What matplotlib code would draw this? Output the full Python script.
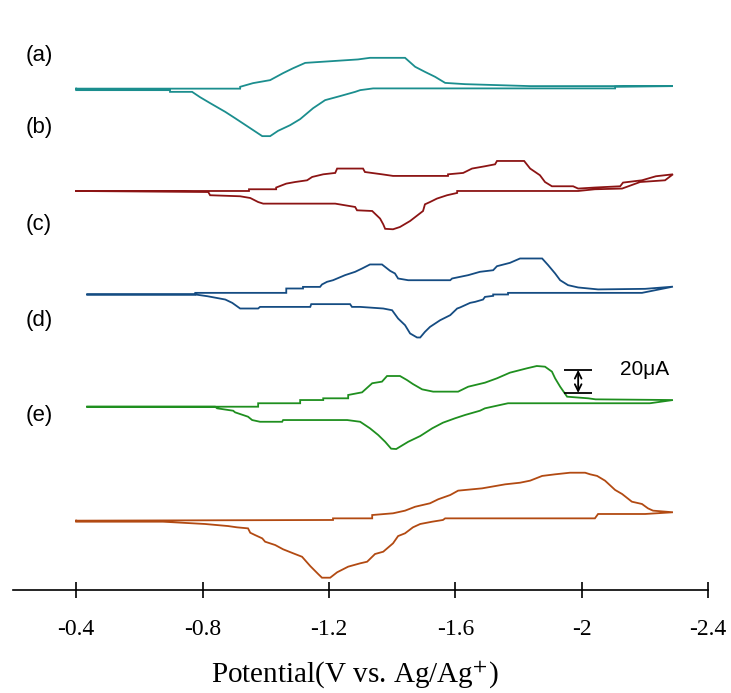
import matplotlib
matplotlib.use("Agg")
import matplotlib.pyplot as plt

plt.rcParams['axes.unicode_minus'] = False
plt.rcParams['mathtext.fontset'] = 'stix'

# potential (V vs Ag/Ag+) and current (uA, relative to each trace's baseline)
# every trace is one closed loop: upper branch left->right, lower branch right->left
a_v = [-0.40, -0.919, -0.919, -0.960, -1.014, -1.055, -1.087, -1.125, -1.292, -1.330, -1.441,
       -1.473, -1.504, -1.536, -1.568, -1.631, -1.837, -2.289,
       -2.106, -2.106, -1.340, -1.299, -1.283, -1.235, -1.188, -1.150, -1.109, -1.077, -1.039,
       -1.014, -0.989, -0.951, -0.903, -0.872, -0.824, -0.792, -0.767, -0.697, -0.697, -0.40, -0.40]
a_i = [0, 0, 1.6, 4.8, 7.4, 13.5, 17.8, 22.4, 25.4, 26.8, 26.8,
       19.0, 14.6, 10.3, 5.0, 3.9, 2.2, 2.2,
       1.6, 0.2, 0.2, -1.3, -2.8, -6.5, -10.0, -17.0, -26.5, -31.8, -36.7,
       -41.3, -41.3, -34.4, -25.7, -20.2, -12.6, -7.4, -2.8, -2.8, -1.3, -1.3, 0]

b_v = [-0.40, -0.947, -0.947, -1.033, -1.033, -1.065, -1.093, -1.131, -1.147, -1.182, -1.220,
       -1.226, -1.308, -1.314, -1.368, -1.403, -1.577, -1.577, -1.625, -1.653, -1.694, -1.726,
       -1.732, -1.818, -1.837, -1.868, -1.884, -1.906, -1.973, -1.989, -2.042, -2.122, -2.131,
       -2.191, -2.235, -2.289,
       -2.264, -2.185, -2.128, -2.042, -1.989, -1.606, -1.606, -1.574, -1.542, -1.520, -1.504,
       -1.498, -1.457, -1.425, -1.403, -1.378, -1.372, -1.362, -1.337, -1.289, -1.283, -1.220,
       -0.992, -0.976, -0.951, -0.919, -0.824, -0.818, -0.40]
b_i = [0, 0, 1.5, 1.5, 3.0, 6.4, 7.8, 9.3, 12.2, 14.5, 15.7,
       19.5, 19.5, 16.5, 14.5, 13.1, 13.1, 14.5, 15.7, 19.5, 21.5, 23.2,
       26.1, 26.1, 19.5, 13.7, 7.8, 4.1, 4.1, 2.1, 3.0, 4.1, 7.3,
       9.3, 12.8, 14.5,
       9.3, 7.8, 2.1, 1.5, 0, 0, -1.7, -3.7, -6.6, -9.6, -11.6,
       -17.4, -26.1, -31.3, -33.3, -32.9, -29.0, -24.0, -17.4, -16.8, -13.9, -11.0,
       -11.0, -9.6, -6.1, -4.6, -3.7, -0.9, 0]

c_v = [-0.435, -0.777, -0.777, -1.065, -1.065, -1.118, -1.118, -1.172, -1.178, -1.194, -1.213,
       -1.251, -1.283, -1.305, -1.330, -1.368, -1.394, -1.409, -1.419, -1.451, -1.584, -1.590,
       -1.641, -1.678, -1.720, -1.732, -1.773, -1.805, -1.875, -1.894, -1.916, -1.932, -1.957,
       -1.989, -2.052, -2.201, -2.289,
       -2.191, -1.767, -1.767, -1.720, -1.720, -1.694, -1.688, -1.663, -1.647, -1.615, -1.606,
       -1.584, -1.552, -1.520, -1.504, -1.489, -1.479, -1.457, -1.441, -1.419, -1.400, -1.372,
       -1.299, -1.273, -1.267, -1.144, -1.141, -0.982, -0.976, -0.919, -0.894, -0.872, -0.815,
       -0.777, -0.435]
c_i = [0, 0, 1.4, 1.4, 5.2, 5.2, 6.6, 6.6, 8.7, 11.0, 12.4,
       16.8, 19.7, 22.6, 26.1, 26.1, 20.5, 18.3, 13.9, 12.4, 12.4, 13.9,
       16.8, 19.7, 21.1, 24.6, 27.5, 31.3, 31.3, 25.5, 18.3, 12.4, 8.1,
       6.1, 4.4, 4.9, 6.8,
       1.4, 1.4, 0, 0, -1.2, -2.1, -4.4, -6.4, -7.3, -11.3, -12.2,
       -18.0, -22.4, -28.2, -32.5, -37.4, -37.4, -33.9, -26.7, -20.9, -13.7, -12.2,
       -10.8, -10.8, -8.4, -8.4, -10.8, -10.8, -12.2, -12.2, -7.3, -4.4, -1.5,
       0, 0]

d_v = [-0.435, -0.976, -0.976, -1.109, -1.109, -1.182, -1.182, -1.261, -1.261, -1.305, -1.337,
       -1.368, -1.384, -1.425, -1.447, -1.466, -1.495, -1.530, -1.609, -1.641, -1.694, -1.732,
       -1.773, -1.827, -1.858, -1.884, -1.906, -1.916, -1.932, -1.954, -2.021, -2.044, -2.289,
       -2.216, -1.767, -1.742, -1.694, -1.678, -1.631, -1.599, -1.561, -1.527, -1.489, -1.451,
       -1.425, -1.413, -1.397, -1.378, -1.356, -1.330, -1.299, -1.258, -1.055, -1.052, -0.982,
       -0.957, -0.944, -0.903, -0.897, -0.846, -0.840, -0.435]
d_i = [0, 0, 3.0, 3.0, 5.8, 5.8, 7.3, 7.3, 10.2, 12.5, 20.4,
       21.8, 26.7, 26.7, 23.2, 19.7, 15.1, 13.1, 13.1, 17.4, 20.9, 24.7,
       29.6, 33.4, 35.4, 34.8, 30.5, 24.7, 17.4, 8.7, 7.3, 6.4, 5.8,
       3.0, 3.0, 1.5, -1.4, -3.5, -7.2, -10.1, -13.9, -18.8, -25.5, -30.5,
       -34.8, -36.8, -36.5, -30.5, -24.6, -18.8, -13.1, -11.6, -11.6, -13.1, -13.1,
       -11.6, -8.7, -4.9, -3.5, -1.4, 0, 0]

e_v = [-0.40, -1.213, -1.213, -1.337, -1.337, -1.403, -1.441, -1.473, -1.520, -1.546, -1.584,
       -1.609, -1.685, -1.758, -1.805, -1.837, -1.875, -1.916, -1.963, -2.011, -2.027, -2.049,
       -2.074, -2.106, -2.128, -2.159, -2.191, -2.210, -2.226, -2.289,
       -2.201, -2.052, -2.042, -1.568, -1.561, -1.527, -1.489, -1.466, -1.441, -1.419, -1.403,
       -1.372, -1.346, -1.321, -1.299, -1.261, -1.226, -1.204, -1.178, -1.166, -1.141, -1.115,
       -1.087, -1.055, -1.030, -0.998, -0.989, -0.966, -0.951, -0.944, -0.909, -0.881, -0.808,
       -0.675, -0.40, -0.40]
e_i = [0.3, 0.9, 2.3, 2.3, 5.2, 6.7, 9.0, 12.4, 15.4, 18.9, 22.6,
       26.4, 28.4, 31.9, 33.3, 35.1, 39.2, 40.6, 42.0, 42.0, 40.6, 39.2,
       35.1, 27.0, 23.5, 16.8, 14.8, 11.0, 9.0, 7.6,
       6.1, 6.1, 2.3, 2.3, 0.9, -0.6, -2.6, -5.5, -10.7, -13.1, -19.4,
       -26.7, -28.7, -35.4, -36.8, -39.7, -44.6, -49.3, -49.3, -46.1, -39.2, -31.1,
       -28.1, -24.6, -20.9, -18.0, -15.1, -12.2, -10.2, -6.4, -5.5, -4.4, -2.6,
       -0.6, -0.6, 0.3]

offsets = [436, 347, 257, 159.4, 60]
colors = ['#1b8e8e', '#8c1414', '#154c82', '#1f8f1f', '#b24a12']
labels = ['(a)', '(b)', '(c)', '(d)', '(e)']
label_y = [55, 127, 224, 320, 416]   # pixel rows of the labels

xticks = [-0.4, -0.8, -1.2, -1.6, -2.0, -2.4]
xtick_labels = ['-0.4', '-0.8', '-1.2', '-1.6', '-2', '-2.4']

scale_v = -1.989
scale_uA = 20

W, H = 731, 693
fig = plt.figure(figsize=(W / 100, H / 100), dpi=100)
ax = fig.add_axes([13 / W, 103 / H, 695 / W, 550 / H])

curves = [(a_v, a_i), (b_v, b_i), (c_v, c_i), (d_v, d_i), (e_v, e_i)]
for (v, i), off, col in zip(curves, offsets, colors):
    ax.plot(v, [x + off for x in i], color=col, lw=1.3, solid_joinstyle='miter')

ax.set_xlim(-0.2, -2.4)
ax.set_ylim(0, 478.3)

for s in ['left', 'right', 'top']:
    ax.spines[s].set_visible(False)
ax.spines['bottom'].set_linewidth(1.2)
ax.set_yticks([])
ax.set_xticks(xticks)
ax.set_xticklabels(xtick_labels, fontfamily='Liberation Serif', fontsize=17)
ax.tick_params(axis='x', direction='inout', length=12, width=1.2, pad=15)

fig.text(355 / W, 1 - 675 / H, r'Potential(V vs. Ag/Ag$^{+}$)', ha='center', va='center',
         fontfamily='Liberation Serif', fontsize=21)

for lab, y in zip(labels, label_y):
    fig.text(26 / W, 1 - y / H, lab, ha='left', va='center',
             fontfamily='Liberation Sans', fontsize=16)

# 20 uA scale bar
y0 = offsets[3] + 12
ax.annotate('', xy=(scale_v, y0 + scale_uA), xytext=(scale_v, y0),
            arrowprops=dict(arrowstyle='<->', lw=1.3, color='black', shrinkA=0, shrinkB=0,
                            mutation_scale=12))
ax.hlines([y0, y0 + scale_uA], scale_v + 0.045, scale_v - 0.045, color='black', lw=1.3)
ax.text(-2.12, y0 + scale_uA, '20μA', ha='left', va='center',
        fontfamily='Liberation Sans', fontsize=15)

fig.savefig('out.png', dpi=100)
